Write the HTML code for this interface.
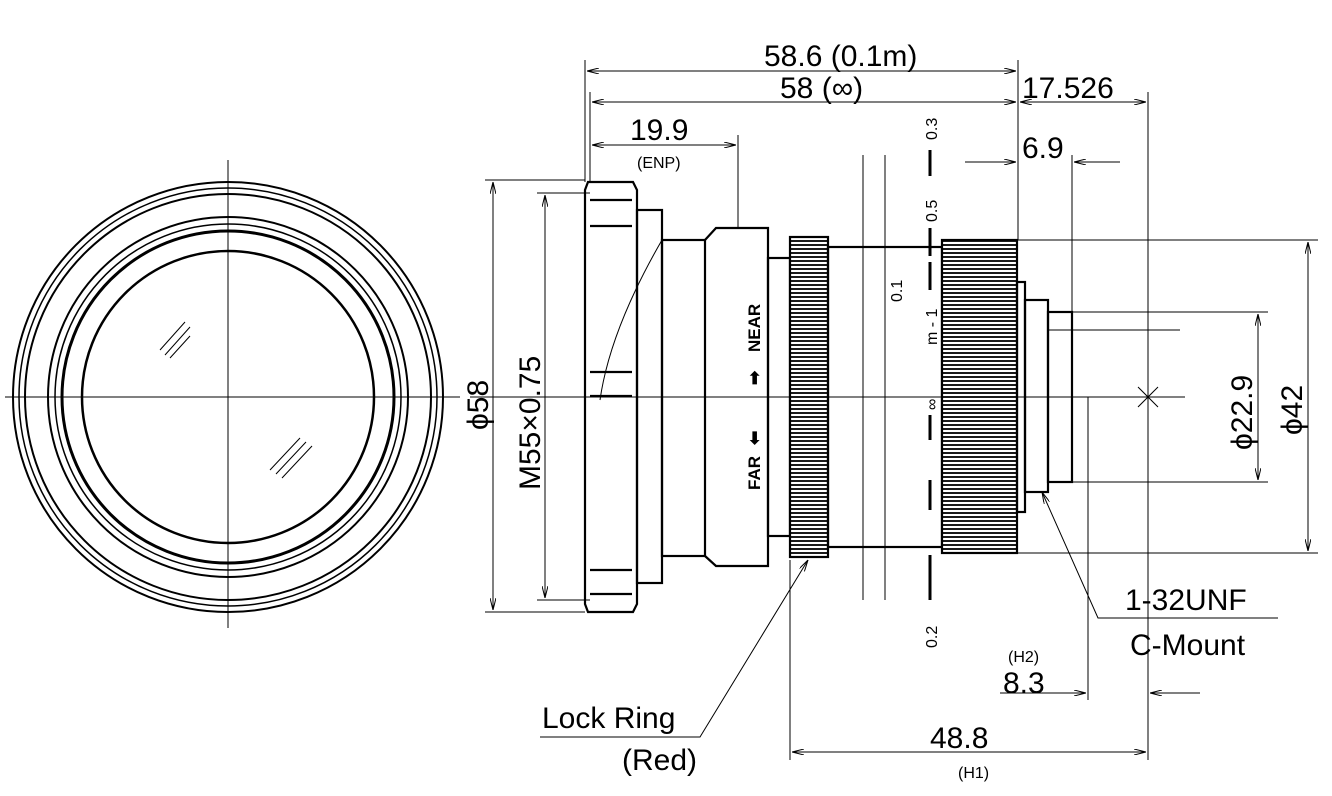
<!DOCTYPE html>
<html><head><meta charset="utf-8"><style>
html,body{margin:0;padding:0;background:#fff;}
svg{display:block}
text{font-family:"Liberation Sans",sans-serif;fill:#000}
.t{font-family:"DejaVu Sans","Liberation Sans",sans-serif;font-weight:200}
</style></head><body>
<svg width="1332" height="796" viewBox="0 0 1332 796" xmlns="http://www.w3.org/2000/svg">
<defs>
<marker id="a" viewBox="0 0 12 6" refX="12" refY="3" markerWidth="12" markerHeight="6" orient="auto-start-reverse" markerUnits="userSpaceOnUse"><path d="M0,0 L12,3 L0,6" fill="none" stroke="#000" stroke-width="1"/></marker>
<pattern id="k" width="4" height="4" patternUnits="userSpaceOnUse"><rect width="4" height="4" fill="#fff"/><line x1="0" y1="1" x2="4" y2="1" stroke="#000" stroke-width="1.8"/></pattern>
</defs>
<g fill="none" stroke="#000">
<g stroke-width="2">
<circle cx="228" cy="397" r="215"/>
<circle cx="228" cy="397" r="209" stroke-width="1.5"/>
<circle cx="228" cy="397" r="203"/>
<circle cx="228" cy="397" r="180"/>
<circle cx="228" cy="397" r="173" stroke-width="1.5"/>
<circle cx="228" cy="397" r="166" stroke-width="3"/>
<circle cx="228" cy="397" r="146" stroke-width="2.5"/>
</g>
<g stroke-width="1">
<line x1="5" y1="397" x2="460" y2="397"/>
<line x1="228" y1="160" x2="228" y2="628"/>
<line x1="160" y1="350" x2="185" y2="322"/><line x1="165" y1="355" x2="190" y2="327"/><line x1="170" y1="358" x2="190" y2="336"/>
<line x1="270" y1="470" x2="300" y2="438"/><line x1="276" y1="474" x2="306" y2="442"/><line x1="282" y1="478" x2="312" y2="446"/>
<line x1="470" y1="397" x2="1185" y2="397"/>
</g>
<g stroke-width="2.2">
<path d="M588,182 L633,182 L637,190 L637,604 L633,612 L588,612 L585,604 L585,190 Z"/>
<line x1="590" y1="200" x2="632" y2="200"/><line x1="590" y1="226" x2="632" y2="226"/>
<line x1="590" y1="372" x2="632" y2="372"/><line x1="590" y1="396" x2="632" y2="396"/>
<line x1="590" y1="570" x2="632" y2="570"/><line x1="590" y1="594" x2="632" y2="594"/>
<rect x="637" y="210" width="25" height="373"/>
<rect x="662" y="240" width="43" height="316"/>
<path d="M705,240 L716,228 L768,228 L768,566 L716,566 L705,556"/>
<rect x="768" y="258" width="22" height="278"/>
<rect x="790" y="237" width="38" height="320" fill="url(#k)"/>
<rect x="828" y="247" width="114" height="300"/>
<rect x="942" y="240" width="75" height="313" fill="url(#k)"/>
<rect x="1017" y="282" width="8" height="230"/>
<rect x="1025" y="300" width="23" height="192"/>
<rect x="1048" y="312" width="24" height="170"/>
</g>
<g stroke-width="1">
<path d="M662,240 Q610,330 600,400"/>
<line x1="863" y1="155" x2="863" y2="600"/><line x1="885" y1="155" x2="885" y2="600"/>
<g stroke-width="3">
<line x1="930" y1="150" x2="930" y2="176"/><line x1="930" y1="228" x2="930" y2="256"/>
<line x1="930" y1="262" x2="930" y2="290"/><line x1="930" y1="415" x2="930" y2="440"/>
<line x1="930" y1="480" x2="930" y2="510"/><line x1="930" y1="555" x2="930" y2="600"/>
</g>
<line x1="1048" y1="330" x2="1180" y2="330"/>
<line x1="585" y1="60" x2="585" y2="182"/><line x1="590" y1="92" x2="590" y2="182"/>
<line x1="1018" y1="60" x2="1018" y2="240"/><line x1="1148" y1="92" x2="1148" y2="760"/>
<line x1="738" y1="135" x2="738" y2="228"/>
<line x1="1072" y1="155" x2="1072" y2="312"/>
<line x1="587" y1="71" x2="1016" y2="71" marker-start="url(#a)" marker-end="url(#a)"/>
<line x1="592" y1="102" x2="1016" y2="102" marker-start="url(#a)" marker-end="url(#a)"/>
<line x1="1020" y1="102" x2="1146" y2="102" marker-start="url(#a)" marker-end="url(#a)"/>
<line x1="592" y1="145" x2="736" y2="145" marker-start="url(#a)" marker-end="url(#a)"/>
<line x1="965" y1="162" x2="1016" y2="162" marker-end="url(#a)"/><line x1="1074" y1="162" x2="1120" y2="162" marker-start="url(#a)"/>
<line x1="485" y1="180" x2="585" y2="180"/><line x1="485" y1="612" x2="585" y2="612"/>
<line x1="493" y1="182" x2="493" y2="610" marker-start="url(#a)" marker-end="url(#a)"/>
<line x1="537" y1="193" x2="590" y2="193"/><line x1="537" y1="600" x2="590" y2="600"/>
<line x1="545" y1="195" x2="545" y2="598" marker-start="url(#a)" marker-end="url(#a)"/>
<line x1="1072" y1="312" x2="1268" y2="312"/><line x1="1072" y1="482" x2="1268" y2="482"/>
<line x1="1258" y1="314" x2="1258" y2="480" marker-start="url(#a)" marker-end="url(#a)"/>
<line x1="1017" y1="240" x2="1318" y2="240"/><line x1="1017" y1="553" x2="1318" y2="553"/>
<line x1="1308" y1="242" x2="1308" y2="551" marker-start="url(#a)" marker-end="url(#a)"/>
<line x1="1138" y1="387" x2="1158" y2="407"/><line x1="1158" y1="387" x2="1138" y2="407"/>
<line x1="1088" y1="397" x2="1088" y2="700"/>
<line x1="1000" y1="693" x2="1086" y2="693" marker-end="url(#a)"/><line x1="1150" y1="693" x2="1200" y2="693" marker-start="url(#a)"/>
<line x1="790" y1="560" x2="790" y2="760"/>
<line x1="792" y1="752" x2="1146" y2="752" marker-start="url(#a)" marker-end="url(#a)"/>
<polyline points="540,737 700,737 808,560" marker-end="url(#a)"/>
<polyline points="1278,618 1098,618 1042,492" marker-end="url(#a)"/>
</g>
</g>
<g class="t" font-size="30">
<text x="764" y="66">58.6 (0.1m)</text>
<text x="780" y="98">58  (∞)</text>
<text x="1022" y="98">17.526</text>
<text x="630" y="140">19.9</text>
<text x="1022" y="158">6.9</text>
<text x="1125" y="610">1-32UNF</text>
<text x="1130" y="655">C-Mount</text>
<text x="1003" y="693">8.3</text>
<text x="930" y="748">48.8</text>
<text x="542" y="728">Lock Ring</text>
<text x="622" y="770">(Red)</text>
<text transform="translate(488,430) rotate(-90)">ϕ58</text>
<text transform="translate(540,490) rotate(-90)">M55×0.75</text>
<text transform="translate(1252,450) rotate(-90)">ϕ22.9</text>
<text transform="translate(1302,435) rotate(-90)">ϕ42</text>
</g>
<g class="t" font-size="16">
<text x="637" y="168">(ENP)</text>
<text x="1008" y="662">(H2)</text>
<text x="958" y="778">(H1)</text>
<text transform="translate(937,140) rotate(-90)">0.3</text>
<text transform="translate(937,222) rotate(-90)">0.5</text>
<text transform="translate(902,302) rotate(-90)">0.1</text>
<text transform="translate(937,345) rotate(-90)">m - 1</text>
<text transform="translate(937,410) rotate(-90)">∞</text>
<text transform="translate(937,648) rotate(-90)">0.2</text>
</g>
<g font-size="17">
<text transform="translate(760,352) rotate(-90)" style="font-weight:bold">NEAR</text>
<text transform="translate(760,490) rotate(-90)" style="font-weight:bold">FAR</text>
<text transform="translate(760,385) rotate(-90)" style="font-weight:bold">➡</text>
<text transform="translate(760,445) rotate(-90)" style="font-weight:bold">⬅</text>
</g>
</svg>
</body></html>
